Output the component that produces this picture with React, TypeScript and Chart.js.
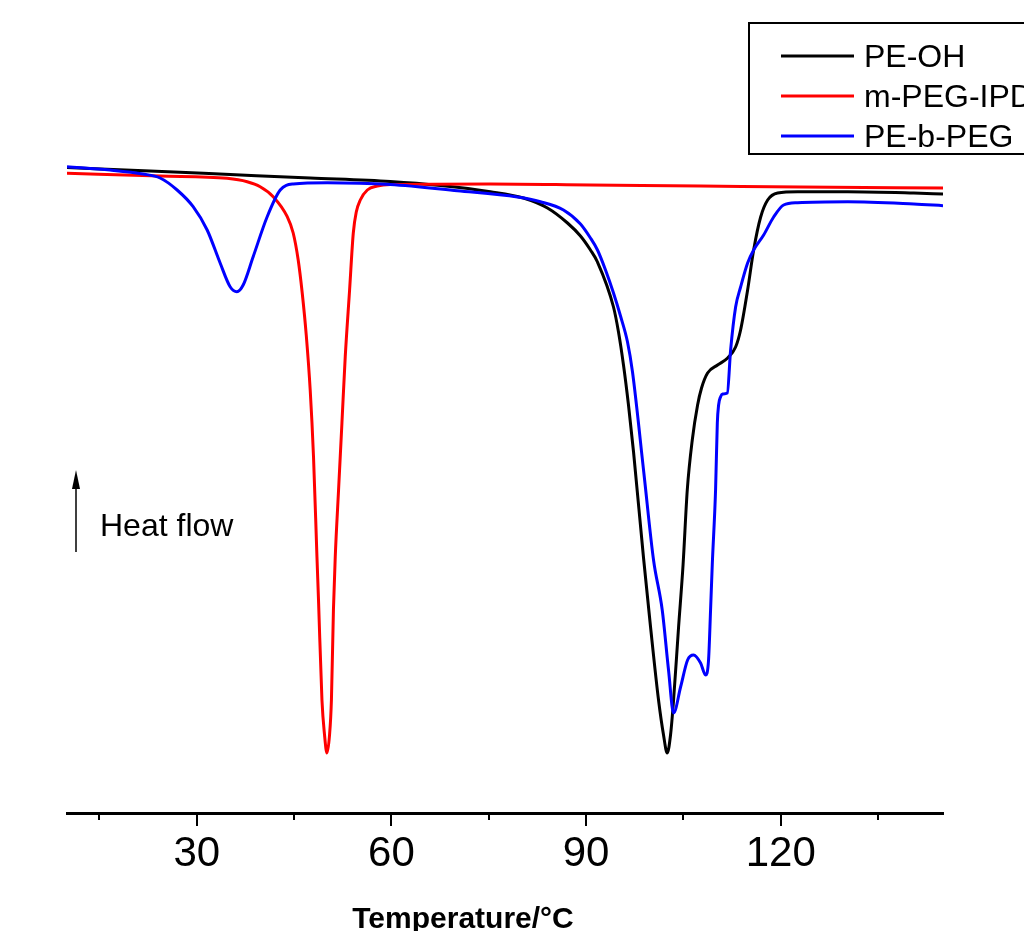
import React, { useEffect, useRef } from 'react';
import { Chart, registerables } from 'chart.js';

Chart.register(...registerables);

const FONT = '"Liberation Sans", Arial, Helvetica, sans-serif';

const seriesLabels = ['PE-OH', 'm-PEG-IPDI', 'PE-b-PEG'];
const seriesColors = ['#000000', '#ff0000', '#0000ff'];

// PE-OH
const peOhTemp = [10.0, 22.8, 35.14, 47.48, 59.82, 67.54, 75.25, 80.34, 84.04, 87.13, 89.13, 90.67, 91.75, 94.22, 94.99, 95.76, 96.53, 97.31, 98.85, 99.93, 101.16, 101.93, 102.5, 103.01, 103.48, 104.25, 104.94, 105.59, 106.36, 107.18, 107.79, 108.72, 110.26, 111.81, 113.04, 113.81, 114.89, 115.82, 116.9, 117.98, 119.52, 122.6, 130.32, 140.5, 145.0];
const peOhFlow = [64.55, 64.2, 63.85, 63.5, 63.15, 62.75, 62.13, 61.5, 60.5, 59.0, 57.7, 56.3, 55.1, 50.6, 48.1, 44.8, 40.8, 36.1, 25.5, 18.6, 11.3, 7.8, 6.0, 7.8, 11.3, 18.6, 24.8, 32.3, 37.3, 40.8, 42.5, 44.0, 44.8, 45.5, 46.6, 48.3, 52.3, 56.3, 59.6, 61.3, 62.0, 62.13, 62.13, 62.0, 61.9];

// m-PEG-IPDI
const mPegTemp = [10.0, 24.35, 34.68, 37.77, 39.77, 41.78, 43.94, 44.86, 45.63, 46.25, 46.87, 47.48, 47.99, 48.52, 48.76, 49.29, 49.69, 50.06, 50.46, 50.75, 51.06, 51.34, 51.85, 52.37, 52.88, 53.55, 54.12, 54.58, 55.2, 56.28, 57.82, 59.82, 75.25, 90.67, 107.64, 123.07, 145.0];
const mPegFlow = [63.97, 63.7, 63.47, 63.13, 62.63, 61.63, 59.63, 58.0, 55.3, 52.0, 47.8, 42.3, 35.63, 25.63, 21.3, 11.3, 7.8, 6.0, 7.8, 11.3, 20.3, 25.63, 32.3, 39.0, 45.63, 52.3, 58.0, 60.1, 61.3, 62.3, 62.7, 62.85, 62.9, 62.8, 62.7, 62.6, 62.5];

// PE-b-PEG
const peBPegTemp = [10.0, 16.63, 21.72, 24.35, 26.97, 29.44, 31.6, 33.6, 35.14, 36.18, 37.15, 38.69, 40.85, 42.86, 44.86, 50.11, 59.82, 70.16, 79.41, 82.96, 86.51, 89.13, 90.67, 91.75, 92.99, 94.22, 95.3, 96.38, 97.15, 98.9, 100.39, 101.73, 102.7, 103.48, 104.56, 105.64, 106.56, 107.64, 108.41, 108.87, 109.18, 109.44, 109.95, 110.22, 110.42, 110.73, 111.03, 111.76, 112.27, 113.04, 113.81, 114.89, 115.82, 117.36, 118.9, 120.44, 122.6, 130.32, 140.5, 145.0];
const peBPegFlow = [64.63, 64.3, 63.9, 63.5, 62.3, 60.63, 58.3, 55.0, 52.63, 52.13, 52.8, 55.63, 59.63, 62.3, 62.9, 63.03, 62.85, 62.23, 61.6, 61.13, 60.3, 58.9, 57.5, 56.3, 54.3, 52.0, 49.7, 47.1, 44.1, 34.0, 25.3, 20.3, 14.3, 10.0, 12.6, 15.3, 15.8, 15.0, 13.8, 15.3, 20.3, 24.8, 32.3, 39.0, 40.8, 41.63, 41.9, 42.0, 46.3, 50.6, 52.6, 55.0, 56.3, 57.8, 59.6, 60.8, 61.03, 61.13, 60.9, 60.73];

const xMin = 10;
const xMax = 145;
const yMin = 0;
const yMax = 80;
const majorTicks = [30, 60, 90, 120];
const minorTicks = [15, 45, 75, 105, 135];
const xTitle = 'Temperature/°C';
const heatFlowNote = 'Heat flow';

function toPoints(t: number[], h: number[]) {
  return t.map((x, i) => ({ x, y: h[i] }));
}

const overlayPlugin = {
  id: 'overlayPlugin',
  afterDraw(chart: any) {
    const ctx = chart.ctx as CanvasRenderingContext2D;
    ctx.save();
    // legend box
    ctx.strokeStyle = '#000';
    ctx.lineWidth = 2;
    ctx.strokeRect(749, 23, 320, 131);
    chart.data.datasets.forEach((ds: any, i: number) => {
      const y = 56 + i * 40;
      ctx.beginPath();
      ctx.moveTo(781, y);
      ctx.lineTo(854, y);
      ctx.strokeStyle = ds.borderColor;
      ctx.lineWidth = 3;
      ctx.stroke();
      ctx.fillStyle = '#000';
      ctx.font = `32px ${FONT}`;
      ctx.textAlign = 'left';
      ctx.textBaseline = 'alphabetic';
      ctx.fillText(ds.label, 864, y + 11);
    });
    // heat flow arrow
    ctx.strokeStyle = '#000';
    ctx.lineWidth = 1.5;
    ctx.beginPath();
    ctx.moveTo(76, 552);
    ctx.lineTo(76, 485);
    ctx.stroke();
    ctx.fillStyle = '#000';
    ctx.beginPath();
    ctx.moveTo(76, 470);
    ctx.lineTo(72, 489);
    ctx.lineTo(80, 489);
    ctx.closePath();
    ctx.fill();
    ctx.font = `32px ${FONT}`;
    ctx.textAlign = 'left';
    ctx.textBaseline = 'alphabetic';
    ctx.fillText(heatFlowNote, 100, 536);
    // x axis title
    ctx.font = `bold 30px ${FONT}`;
    ctx.textAlign = 'center';
    ctx.fillText(xTitle, 463, 928);
    ctx.restore();
  },
};

export default function App() {
  const canvasRef = useRef<HTMLCanvasElement | null>(null);

  useEffect(() => {
    document.body.style.margin = '0';
    document.body.style.overflow = 'hidden';
    const canvas = canvasRef.current;
    if (!canvas) return;
    const series = [
      toPoints(peOhTemp, peOhFlow),
      toPoints(mPegTemp, mPegFlow),
      toPoints(peBPegTemp, peBPegFlow),
    ];
    const chart = new Chart(canvas, {
      type: 'line',
      data: {
        datasets: series.map((pts, i) => ({
          label: seriesLabels[i],
          data: pts,
          borderColor: seriesColors[i],
          backgroundColor: seriesColors[i],
          borderWidth: 3,
          pointRadius: 0,
          fill: false,
          cubicInterpolationMode: 'monotone' as const,
          order: 2 - i,
        })),
      },
      options: {
        animation: false,
        responsive: false,
        devicePixelRatio: 1,
        layout: { padding: { left: 67, right: 81, top: 13, bottom: 0 } },
        plugins: {
          legend: { display: false },
          tooltip: { enabled: false },
          title: { display: false },
        },
        scales: {
          x: {
            type: 'linear',
            min: xMin,
            max: xMax,
            position: 'bottom',
            weight: 0,
            afterBuildTicks: (scale: any) => {
              scale.ticks = majorTicks.map((v) => ({ value: v }));
            },
            afterFit: (scale: any) => {
              scale.height = 118;
            },
            grid: {
              display: true,
              drawOnChartArea: false,
              drawTicks: true,
              tickLength: 13,
              color: '#000',
              lineWidth: 2,
            },
            border: { display: true, color: '#000', width: 3 },
            ticks: {
              color: '#000',
              font: { family: FONT, size: 42 },
              padding: 3,
              maxRotation: 0,
              autoSkip: false,
            },
          },
          xMinor: {
            type: 'linear',
            min: xMin,
            max: xMax,
            position: 'bottom',
            weight: -1,
            afterBuildTicks: (scale: any) => {
              scale.ticks = minorTicks.map((v) => ({ value: v }));
            },
            afterFit: (scale: any) => {
              scale.height = 0;
            },
            grid: {
              display: true,
              drawOnChartArea: false,
              drawTicks: true,
              tickLength: 7,
              color: '#000',
              lineWidth: 2,
            },
            border: { display: false },
            ticks: { display: false },
          },
          y: {
            type: 'linear',
            display: false,
            min: yMin,
            max: yMax,
          },
        },
      },
      plugins: [overlayPlugin],
    } as any);
    return () => chart.destroy();
  }, []);

  return (
    <div style={{ width: 1024, height: 931, position: 'relative' }}>
      <canvas ref={canvasRef} width={1024} height={931} style={{ display: 'block' }} />
    </div>
  );
}
